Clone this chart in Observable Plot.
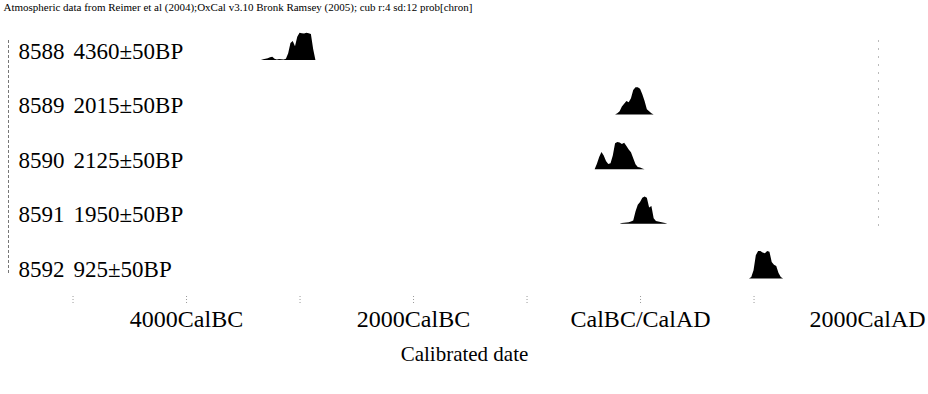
<!DOCTYPE html>
<html>
<head>
<meta charset="utf-8">
<script src="https://cdn.jsdelivr.net/npm/d3@7"></script>
<script src="https://cdn.jsdelivr.net/npm/@observablehq/plot@0.6"></script>
<style>
  html, body { margin: 0; padding: 0; background: #fff; }
</style>
</head>
<body>
<div id="chart"></div>
<script>
// ---- data ----
const titleText = "Atmospheric data from Reimer et al (2004);OxCal v3.10 Bronk Ramsey (2005); cub r:4 sd:12 prob[chron]";
const labIds = ["8588", "8589", "8590", "8591", "8592"];
const dateLabels = ["4360±50BP", "2015±50BP", "2125±50BP", "1950±50BP", "925±50BP"];
const startYears = [-3340, -220, -400, -180, 960];   // first year of each distribution (BC negative)
const yearStep = 20;
const prob8588 = [0, 0.03, 0.05, 0.06, 0.1, 0.12, 0.05, 0.02, 0.04, 0.03, 0.02, 0.05, 0.25, 0.62, 0.7, 0.5, 0.85, 1.0, 0.98, 0.97, 1.0, 0.98, 0.95, 0.4, 0];
const prob8589 = [0, 0.05, 0.12, 0.3, 0.4, 0.5, 0.45, 0.6, 0.9, 1.0, 1.0, 0.95, 0.75, 0.5, 0.2, 0.12, 0.05, 0];
const prob8590 = [0, 0.2, 0.45, 0.63, 0.5, 0.3, 0.19, 0.22, 0.5, 0.95, 1.0, 0.98, 0.92, 0.97, 0.85, 0.72, 0.62, 0.4, 0.18, 0.08, 0.06, 0.03, 0];
const prob8591 = [0, 0.03, 0.04, 0.05, 0.06, 0.08, 0.12, 0.45, 0.7, 0.8, 0.95, 1.0, 0.95, 0.6, 0.65, 0.2, 0.1, 0.08, 0.07, 0.05, 0.03, 0];
const prob8592 = [0, 0.05, 0.3, 0.85, 1.0, 1.0, 0.95, 0.92, 1.0, 0.98, 0.6, 0.5, 0.45, 0.2, 0.05, 0];
const tickYears = [-4000, -2000, 0, 2000];
const tickLabels = ["4000CalBC", "2000CalBC", "CalBC/CalAD", "2000CalAD"];
const minorTickYears = [-5000, -4000, -3000, -2000, -1000, 0, 1000];
const axisTitle = "Calibrated date";

// ---- build tables ----
const probs = [prob8588, prob8589, prob8590, prob8591, prob8592];
const rowGap = 2; // rows are 2 density units apart
const rows = labIds.map((id, i) => ({id, date: dateLabels[i], base: -rowGap * i}));
const dens = [];
probs.forEach((arr, i) => {
  arr.forEach((p, j) => {
    dens.push({row: labIds[i], year: startYears[i] + j * yearStep, base: -rowGap * i, top: -rowGap * i + p});
  });
});

const serif = "'Liberation Serif', 'Times New Roman', serif";

const chart = Plot.plot({
  width: 928,
  height: 394,
  marginTop: 0,
  marginRight: 0,
  marginBottom: 98,
  marginLeft: 0,
  style: {fontFamily: serif, background: "#fff", color: "#000", overflow: "visible"},
  x: {domain: [-5639, 2537]},
  y: {domain: [-8.645, 2.198], axis: null},
  marks: [
    Plot.frame({anchor: "left", insetLeft: 8, insetTop: 40, insetBottom: 24, stroke: "#777", strokeDasharray: "2,3"}),
    Plot.frame({anchor: "right", insetRight: 50, insetTop: 40, insetBottom: 64, stroke: "#bbb", strokeDasharray: "1,7"}),
    Plot.areaY(dens, {x: "year", y1: "base", y2: "top", z: "row", fill: "#000"}),
    Plot.text(rows, {frameAnchor: "left", dx: 18, y: "base", dy: -2, text: "id", textAnchor: "start", lineAnchor: "bottom", fontSize: 23}),
    Plot.text(rows, {frameAnchor: "left", dx: 73, y: "base", dy: -2, text: "date", textAnchor: "start", lineAnchor: "bottom", fontSize: 23}),
    Plot.text([titleText], {frameAnchor: "top-left", dx: 3, dy: 3, text: d => d, textAnchor: "start", lineAnchor: "top", fontSize: 11}),
    Plot.axisX({ticks: minorTickYears, tickSize: 9, tickFormat: () => "", stroke: "#999", strokeDasharray: "1,2", label: null}),
    Plot.axisX({ticks: tickYears, tickSize: 0, tickPadding: 13, tickFormat: d => tickLabels[tickYears.indexOf(d)], fontSize: 24, label: null}),
    Plot.text([axisTitle], {frameAnchor: "bottom", dy: 64, text: d => d, lineAnchor: "bottom", fontSize: 21})
  ]
});
document.getElementById("chart").appendChild(chart);
</script>
</body>
</html>
